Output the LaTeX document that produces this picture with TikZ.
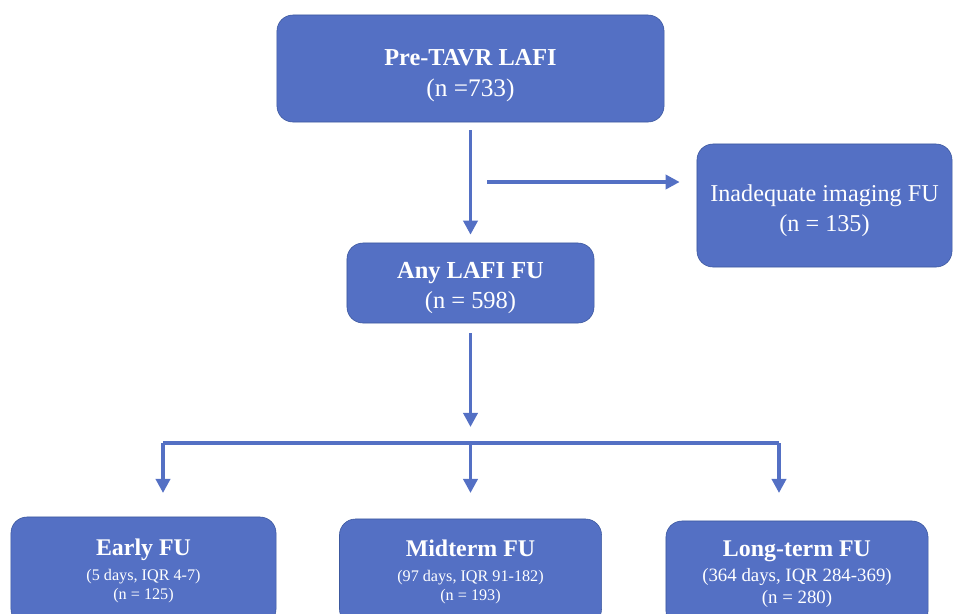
\documentclass[tikz,border=0pt]{standalone}
\usepackage{fontspec}
\setmainfont{Liberation Serif}
\usetikzlibrary{arrows.meta,positioning,calc}
\definecolor{boxblue}{RGB}{84,112,196}
\definecolor{boxline}{RGB}{60,88,158}

\begin{document}
\begin{tikzpicture}[x=0.025cm,y=-0.025cm,
item/.style={draw=boxline,fill=boxblue,rounded corners=0.4cm,text=white,align=center,inner sep=0pt},
small/.style={font=\fontsize{11.5}{13.5}\selectfont},
wire/.style={draw=boxblue,line width=2.6pt},
flow/.style={wire,-{Triangle[length=10pt,width=10pt]}}]

\clip (0,0) rectangle (954,613);

%top
\node[item,font=\fontsize{18}{22}\selectfont,minimum width=9.675cm,minimum height=2.675cm] (pre) at (470.5,68.5)
	{\rule{0pt}{22pt}{\fontsize{17.3}{21}\selectfont\bfseries Pre-TAVR LAFI}\\(n =733)};
\node[item,font=\fontsize{17.4}{21.5}\selectfont,minimum width=6.175cm,minimum height=2cm] (any) at (470.5,283)
	{\rule{0pt}{19pt}\textbf{Any LAFI FU}\\(n = 598)};
\node[item,font=\fontsize{17.2}{21}\selectfont,minimum width=6.375cm,minimum height=3.075cm] (inad) at (824.5,205.5)
	{\rule{0pt}{19pt}Inadequate imaging FU\\(n = 135)};

%follow up
\node[item,small,minimum width=6.625cm,minimum height=2.7cm] (early) at (143.5,571)
	{{\fontsize{17}{20}\selectfont\bfseries Early FU}\\[4pt](5 days, IQR 4-7)\\(n = 125)};
\node[item,small,minimum width=6.55cm,minimum height=2.65cm] (mid) at (470.5,572)
	{{\fontsize{17}{20}\selectfont\bfseries Midterm FU}\\[4pt](97 days, IQR 91-182)\\(n = 193)};
\node[item,font=\fontsize{13.4}{15.5}\selectfont,minimum width=6.55cm,minimum height=2.65cm] (long) at (797,574)
	{{\fontsize{17}{20}\selectfont\bfseries Long-term FU}\\[2pt](364 days, IQR 284-369)\\(n = 280)};

% arrows
\coordinate (excl) at (487,182);
\coordinate (fork) at (470.5,443);
\coordinate (forkl) at (163,443);
\coordinate (forkr) at (779,443);

\draw[flow,shorten <=0.2cm,shorten >=0.2cm] (pre.south) -- (any.north);
\draw[flow,shorten >=0.425cm] (excl) -- (excl -| inad.west);
\draw[flow,shorten <=0.25cm,shorten >=0.4cm] (any.south) -- (any.south |- fork);
\draw[wire] (forkl) -- (forkr);
\foreach \F/\B in {forkl/early,fork/mid,forkr/long}
{
	\draw[flow] (\F) -- ($(\F)+(0,50)$);
}
\end{tikzpicture}
\end{document}
